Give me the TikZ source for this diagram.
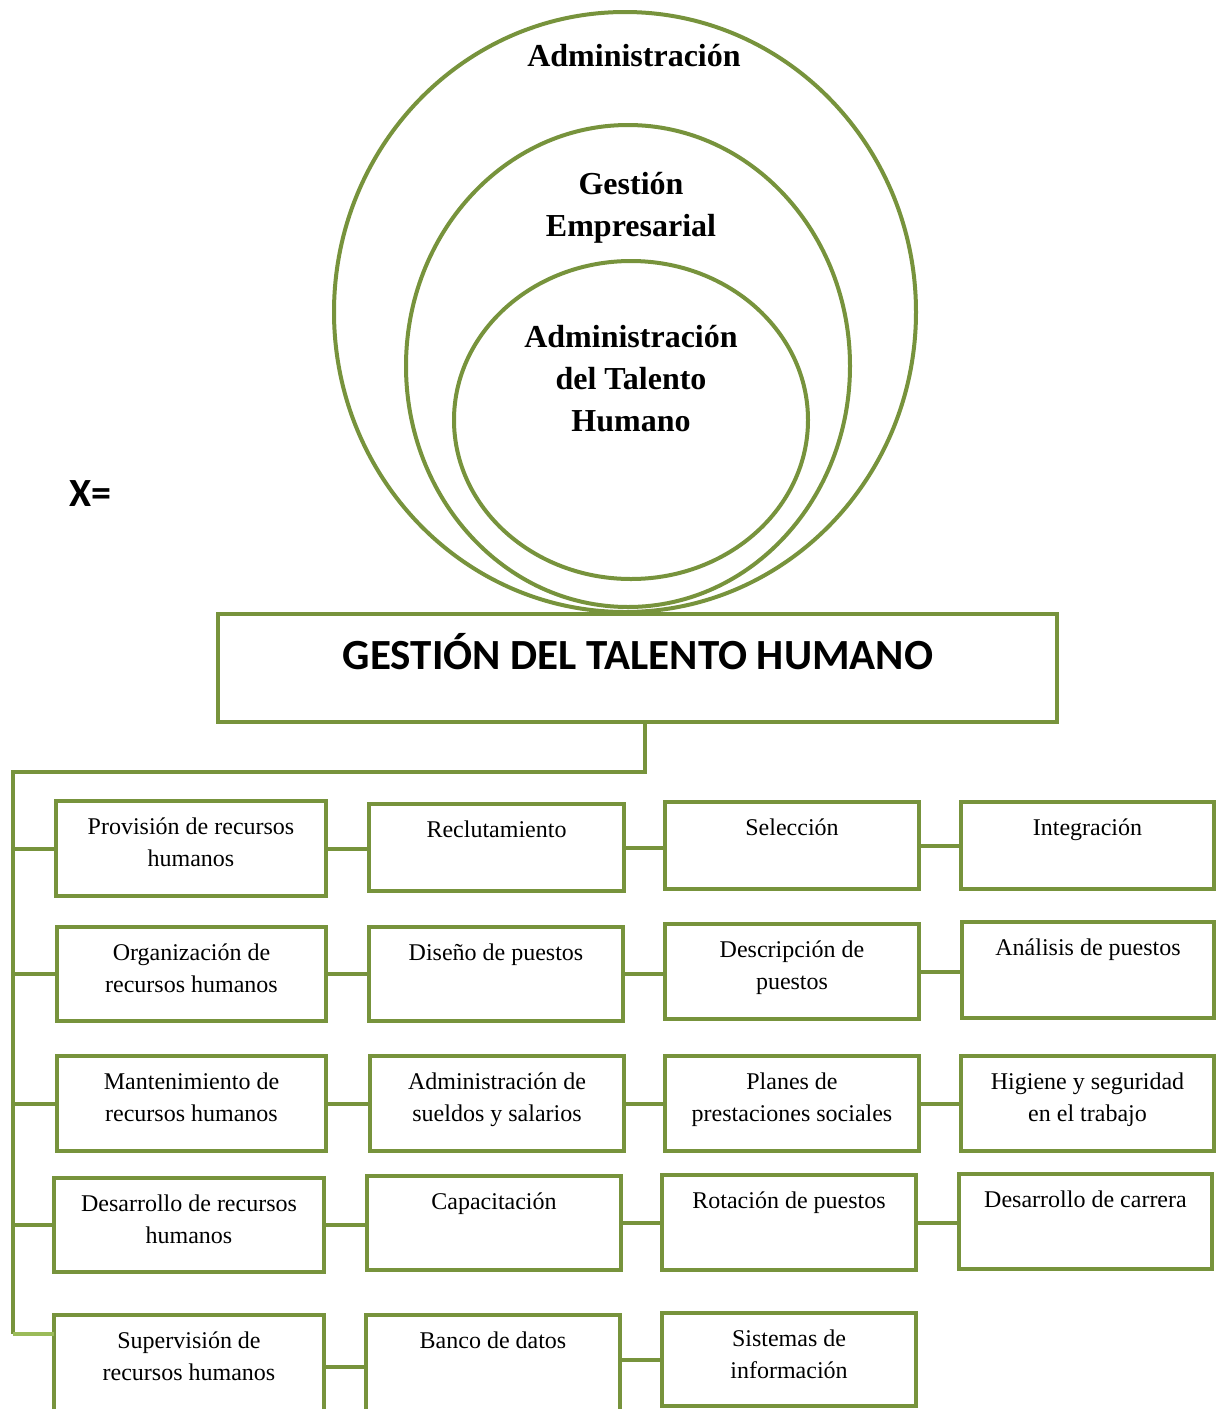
\documentclass[tikz,border=0pt]{standalone}
\usepackage{fontspec}
\setmainfont{Liberation Serif}
\newfontfamily\calfont{Carlito}
\definecolor{olive}{HTML}{77933C}
\definecolor{lightolive}{HTML}{9BBB59}
\tikzset{
  ln/.style={draw=olive, line width=4pt},
  bx/.style={ln, rectangle, inner sep=0pt},
  txt/.style={align=center, font=\fontsize{24}{32}\selectfont, inner sep=0pt},
  ctxt/.style={align=center, font=\fontsize{32}{42}\selectfont\bfseries, inner sep=0pt},
}
\newcommand\mybox[6]{%
  \node[bx, minimum width={#4-#2}, minimum height={#5-#3}] (#1) at ({(#2+#4)/2},{(#3+#5)/2}) {};
  \node[txt, anchor=north] (#1t) at ([yshift=-19pt]#1.north) {#6};
}
\begin{document}
\begin{tikzpicture}[x=1pt,y=-1pt]
\useasboundingbox[fill=white] (0,0) rectangle (1216,1409);
% circles
\draw[ln] (625,312) ellipse [x radius=291, y radius=300];
\draw[ln] (628,366) ellipse [x radius=222, y radius=241];
\draw[ln] (631,420) ellipse [x radius=177, y radius=159];
\node[ctxt] (c1) at (634,56) {Administración};
\node[ctxt] (c2) at (631,208) {Gestión\\Empresarial};
\node[ctxt] (c3) at (631,379) {Administración\\del Talento\\Humano};
\node[font=\calfont\fontsize{40}{48}\selectfont\bfseries, inner sep=0pt] (x) at (90,494) {X=};
% main box
\node[bx, fill=white, minimum width=839, minimum height=108] (main) at (637.5,668) {};
\node[font=\calfont\fontsize{43}{50}\selectfont\bfseries, inner sep=0pt] (maint) at (638,652) {GESTIÓN DEL TALENTO HUMANO};
% boxes
\mybox{a1}{56}{801}{326}{896}{Provisión de recursos\\humanos}
\mybox{a2}{369}{804}{624}{891}{Reclutamiento}
\mybox{a3}{665}{802}{919}{889}{Selección}
\mybox{a4}{961}{802}{1214}{889}{Integración}
\mybox{b1}{57}{927}{326}{1021}{Organización de\\recursos humanos}
\mybox{b2}{369}{927}{623}{1021}{Diseño de puestos}
\mybox{b3}{665}{924}{919}{1019}{Descripción de\\puestos}
\mybox{b4}{962}{922}{1214}{1018}{Análisis de puestos}
\mybox{c1}{57}{1056}{326}{1151}{Mantenimiento de\\recursos humanos}
\mybox{c2}{370}{1056}{624}{1151}{Administración de\\sueldos y salarios}
\mybox{c3}{665}{1056}{919}{1151}{Planes de\\prestaciones sociales}
\mybox{c4}{961}{1056}{1214}{1151}{Higiene y seguridad\\en el trabajo}
\mybox{d1}{54}{1178}{324}{1272}{Desarrollo de recursos\\humanos}
\mybox{d2}{367}{1176}{621}{1270}{Capacitación}
\mybox{d3}{662}{1175}{916}{1270}{Rotación de puestos}
\mybox{d4}{959}{1174}{1212}{1269}{Desarrollo de carrera}
\mybox{e1}{54}{1315}{324}{1412}{Supervisión de\\recursos humanos}
\mybox{e2}{366}{1315}{620}{1412}{Banco de datos}
\mybox{e3}{662}{1313}{916}{1406}{Sistemas de\\información}
% connectors between boxes
\foreach \r in {a,b,c,d}{
  \draw[ln] (\r1.east) -- (\r1.east -| \r2.west);
  \draw[ln] (\r2.east) -- (\r2.east -| \r3.west);
  \draw[ln] (\r3.east) -- (\r3.east -| \r4.west);
}
\draw[ln] ([yshift=-3pt]e1.east) -- ([yshift=-3pt]e1.east -| e2.west);
\draw[ln] (e2.east |- e3.west) -- (e3.west);
% trunk
\coordinate (t0) at (645,772);
\coordinate (t1) at (13,772);
\coordinate (t2) at (13,1334);
\draw[ln] (main.south -| t0) -- (t0) -- (t1) -- (t2);
\draw[ln] (t1 |- a1.west) -- (a1.west);
\draw[ln] (t1 |- b1.west) -- (b1.west);
\draw[ln] (t1 |- c1.west) -- (c1.west);
\draw[ln] (t1 |- d1.west) -- (d1.west);
\coordinate (t3) at (54,1334);
\draw[draw=lightolive, line width=4pt] (t2) -- (t3);
\end{tikzpicture}
\end{document}
